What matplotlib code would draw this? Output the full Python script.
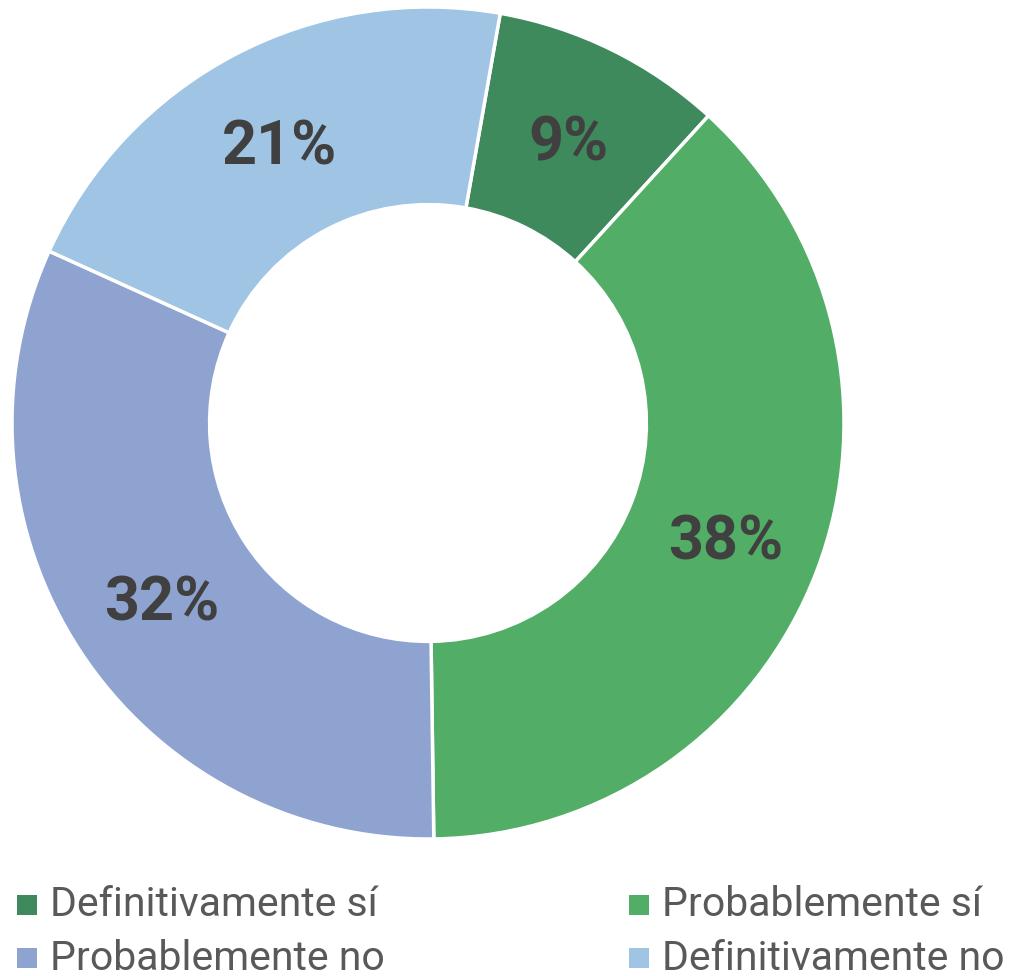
import matplotlib.pyplot as plt
from matplotlib.patches import Rectangle

labels = ["Definitivamente sí", "Probablemente sí", "Probablemente no", "Definitivamente no"]
values = [9, 38, 32, 21]
colors = ["#3E8A5C", "#52AE66", "#8FA3D1", "#9FC4E4"]

legend_order = [0, 1, 2, 3]

W, H = 1019, 976
fig = plt.figure(figsize=(W / 100, H / 100), dpi=100)

cx, cy, r = 428, 423, 416
ax = fig.add_axes([(cx - r) / W, (H - cy - r) / H, 2 * r / W, 2 * r / H])

wedges, texts, autotexts = ax.pie(
    values,
    colors=colors,
    startangle=80,
    counterclock=False,
    radius=1,
    autopct=lambda p: f"{p:.0f}%",
    pctdistance=0.765,
    wedgeprops=dict(width=0.475, edgecolor="white", linewidth=2.5),
    textprops=dict(color="#404040", fontsize=44, fontweight="bold", family="Roboto"),
)
# nudge labels slightly down to sit like the original
for t in autotexts:
    x, y = t.get_position()
    t.set_position((x, y - 0.015))

ax.set_xlim(-1, 1)
ax.set_ylim(-1, 1)
ax.set_aspect("equal")
ax.axis("off")

# legend drawn by hand: two columns, two rows
col_x = [17, 629]
row_y = [905, 958]
for i, idx in enumerate(legend_order):
    x = col_x[i % 2]
    y = row_y[i // 2]
    sq = 20
    fig.patches.append(Rectangle((x / W, (H - y - sq / 2) / H), sq / W, sq / H,
                                 transform=fig.transFigure, facecolor=colors[idx], edgecolor="none"))
    fig.text((x + 33) / W, (H - y) / H, labels[idx], fontsize=29.5, color="#595959",
             family="Roboto", va="center", ha="left")

fig.savefig("out.png", dpi=100)
